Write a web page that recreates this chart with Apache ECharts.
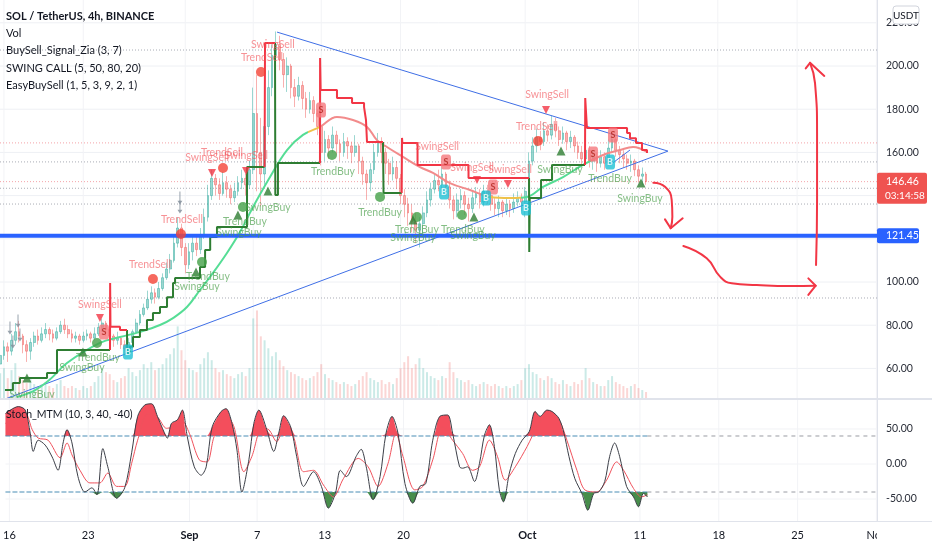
<!DOCTYPE html>
<html>
<head>
<meta charset="utf-8">
<script src="https://cdn.jsdelivr.net/npm/echarts@6.0.0/dist/echarts.min.js"></script>
<style>
html,body{margin:0;padding:0;background:#ffffff;}
#chart{width:932px;height:550px;}
</style>
</head>
<body>
<div id="chart"></div>
<script>
// ================= DATA =================
// day 0 = Aug 16 00:00; candles are 8h, first one Aug 15 16:00
const candleStartDay = -1 / 3;
const candleStepDay = 1 / 3;
const firstOpen = 62;
const closes = [
66,70,68,73,77,75,71,68,72,75,
73,76,78,76,74,77,80,78,76,74,
75,73,75,76,74,76,79,81,78,75,
73,74,71,69,72,77,81,85,88,92,
95,93,97,102,106,110,118,125,116,108,
114,118,115,121,130,140,148,145,141,146,
143,139,142,146,148,145,152,178,160,150,
172,190,205,210,203,196,200,190,186,191,
185,180,184,178,172,160,166,162,168,164,
160,165,163,160,163,156,150,146,152,160,
165,160,155,150,153,148,140,136,132,128,
124,127,132,138,143,147,145,150,144,138,
133,138,140,136,134,139,141,137,142,140,
136,134,137,133,136,134,137,139,137,142,
156,163,167,165,170,168,173,170,166,169,
165,167,163,160,157,161,156,158,155,158,
155,162,166,161,159,157,155,156,152,149,150,146.46];
const highs = [
70,73,72,76,81,82,76,73,74,77,
78,79,81,79,78,79,82,83,80,78,
77,76,77,78,77,79,81,83,82,80,
76,77,75,73,74,78,83,87,90,96,
98,97,100,104,109,113,121,130,127,118,
118,121,122,125,134,145,152,150,148,151,
149,145,146,149,152,150,156,190,196,176,
180,198,210,216,214,206,204,201,194,195,
193,188,188,186,180,174,170,168,172,170,
166,169,167,165,168,164,158,152,155,164,
169,167,162,157,158,156,150,143,139,136,
132,130,135,142,146,150,152,153,151,147,
140,141,143,142,139,142,144,143,145,145,
142,139,140,138,139,138,141,142,141,144,
160,167,171,170,174,173,177,176,172,172,
170,170,168,165,163,166,163,161,160,161,
160,166,169,167,163,161,159,159,157,154,153,151];
const lows = [
60,64,63,66,71,72,67,63,64,70,
71,72,74,73,72,73,76,76,74,72,
72,71,72,73,72,73,75,77,75,72,
70,71,69,66,66,71,76,80,84,87,
90,90,92,96,101,104,109,116,112,104,
106,110,112,113,120,128,138,140,138,140,
139,136,137,140,143,140,143,150,142,135,
145,168,186,200,198,190,188,185,181,184,
180,176,178,174,168,154,156,157,160,159,
156,158,157,155,158,150,145,138,142,150,
158,155,150,145,147,143,136,130,126,123,
118,116,121,130,135,141,142,143,140,134,
129,130,134,131,128,132,136,134,135,136,
133,131,130,130,131,130,132,135,133,130,
140,154,160,161,163,165,166,167,163,164,
161,162,160,157,153,155,153,152,151,153,
152,154,160,158,155,153,152,151,149,146,145,145];
const volumes = [
25,30,20,28,35,22,18,15,20,14,
12,14,16,12,10,14,18,12,10,12,
10,8,12,10,12,16,22,30,26,24,
18,16,20,22,30,26,22,28,34,30,
36,28,30,34,40,44,50,72,48,38,
30,28,26,34,40,46,38,30,26,28,
24,22,20,24,26,22,30,80,88,62,
58,50,42,46,38,32,28,26,24,22,
20,18,20,22,26,34,24,20,18,16,
14,16,14,12,14,18,22,26,20,18,
16,18,14,16,14,20,30,36,42,30,
34,40,30,26,22,20,18,22,20,36,
26,20,18,16,18,14,12,14,16,14,
12,14,12,10,12,10,12,14,18,30,
34,26,24,20,18,22,20,16,14,18,
14,12,16,14,18,30,20,16,14,12,
12,18,22,16,14,12,10,12,14,10,8,6];

const lastPrice = 146.46;
const countdownText = '03:14:58';
const supportLevel = 121.45;

// time axis
const timeTickDays = [0, 7, 16, 22, 28, 35, 46, 56, 63, 70, 77];
const timeTickLabels = ['16', '23', 'Sep', '7', '13', '20', 'Oct', '11', '18', '25', 'Nov'];
const boldTickLabels = ['Sep', 'Oct'];
// price axis
const priceTicks = [60, 80, 100, 160, 180, 200, 220];
const priceGridLevels = [60, 80, 100, 120, 140, 160, 180, 200, 220];
const dottedGrayLevels = [207.4, 155.6, 143.4, 136.1, 92.6];
const dottedPinkLevels = [164.4, 146.46];
// stoch axis
const stochTicks = [50, 0, -50];
const stochUpper = 40;
const stochLower = -40;

// BuySell_Signal_Zia step line segments [day, price]
const zigGreenSegments = [
  [[0.09,50],[0.79,53.2],[1.41,55.6],[3.80,57.9],[4.68,68.5],[9.36,68.5]],
  [[10.86,77.8],[10.87,67.1],[11.12,70],[11.39,74.5],[12.0,77.8],[12.62,82.4],[13.15,85.6],[13.77,88.4],[14.39,93],[14.92,99.5],[15.1,101.8],[17.3,107],[17.75,114.8],[18.2,120.8],[18.8,125.5],[21.45,153.2],[23.0,153.2]],
  [[23.92,210.6],[23.95,140.3],[24.18,155.1],[27.89,155.1]],
  [[33.45,164.8],[33.5,141.2],[35.1,141.2]],
  [[46.34,148.1],[46.36,113.9],[46.4,138.9],[47.4,147.2],[48.37,154.2],[51.28,154.2]]
];
const zigRedSegments = [
  [[9.36,68.5],[9.37,99.5],[9.40,79.3],[10.24,77.8],[10.86,77.8]],
  [[23.0,153.2],[23.04,210.6],[23.92,210.6]],
  [[27.89,155.1],[27.90,203.7],[27.95,188.9],[29.39,185.2],[30.72,182.9],[31.78,181],[31.95,175],[32.04,164.8],[33.45,164.8]],
  [[35.1,141.2],[35.13,166.7],[35.16,164.4],[36.5,154.2],[41.0,148.1],[46.34,148.1]],
  [[51.28,154.2],[51.3,185.2],[51.45,171.3],[54.99,169],[55.25,166.5],[55.78,164.4],[56.31,161.1],[56.75,159.7]]
];
// SWING CALL moving line [day, price]
const swingLine = [[1.15,46.8],[2.6,49.5],[4.0,54.6],[5.56,62.5],[8.47,71.8],[10.24,74.5],[12.0,76.9],[13.77,80.1],[14.92,83.3],[16.15,88.4],[17.3,96.3],[18.45,104.2],[19.68,113.4],[20.83,123.1],[21.98,134.7],[23.48,148.6],[24.98,161.1],[26.39,168.1],[27.89,171.8],[29.39,176.4],[30.8,175],[32.04,171.8],[32.92,165.7],[33.8,162.5],[35.22,157.9],[36.72,153.2],[37.86,150.5],[39.36,145.8],[41.13,142.6],[42.9,139.4],[44.66,138.9],[46.16,139.4],[47.57,144],[49.34,148.6],[51.1,154.2],[52.87,158.8],[54.37,161.1],[55.52,162.5],[56.75,160.2]];
const swingLineColorBreaks = [26.8, 27.9, 42.3, 45.6, 51.8]; // green | yellow | pink | yellow | green | pink

// signal markers [day, price]
const trendSellDots = [[13.15,101.4],[15.62,122.2],[19.33,152.8],[22.68,197.2],[47.13,165.3]];
const trendBuyDots = [[8.21,71.8],[17.48,109.3],[21.09,134.7],[28.95,158.8],[33.19,139.4],[36.45,130.1],[40.42,131]];
const swingBuyTriangles = [[2.03,55.6],[6.97,67.6],[16.95,104.6],[20.65,131],[23.3,142.1],[36.1,128.7],[41.48,130.1],[49.16,160.6],[56.22,145.8]];
const swingSellTriangles = [[8.47,83.3],[18.36,150.5],[21.36,151.4],[41.75,147.2],[44.48,145.4],[47.84,179.6]];
const sellBoxes = [[8.83,76.9],[27.98,179.6],[39.01,155.6],[43.16,144],[51.99,159.3],[53.75,168.1]];
const buyBoxes = [[10.94,67.6],[38.84,141.7],[42.54,138.9],[46.07,134.3],[53.49,155.6]];
const easyArrows = [[0.53,78.7],[1.24,82],[0.79,72.2],[1.41,75.5],[15.53,138.9],[15.53,134.7]];
const buyLabels = [[2.47,48.1,'SwingBuy'],[8.30,64.8,'TrendBuy'],[6.88,60.2,'SwingBuy'],[18.0,102.3,'TrendBuy'],[17.03,97.7,'SwingBuy'],[21.27,127.8,'TrendBuy'],[20.74,123.1,'SwingBuy'],[23.3,134.3,'SwingBuy'],[29.04,150.9,'TrendBuy'],[33.19,132,'TrendBuy'],[36.45,124.1,'TrendBuy'],[36.1,120.4,'SwingBuy'],[40.5,124.1,'TrendBuy'],[41.4,121.3,'SwingBuy'],[49.07,151.9,'SwingBuy'],[53.49,148.1,'TrendBuy'],[56.13,138.4,'SwingBuy']];
const sellLabels = [[8.47,89.4,'SwingSell'],[12.89,107.9,'TrendSell'],[15.71,128.7,'TrendSell'],[17.92,157.4,'SwingSell'],[19.24,159.7,'TrendSell'],[21.36,158.3,'SwingSell'],[23.74,209.7,'SwingSell'],[22.77,203.7,'TrendSell'],[38.22,162.5,'SwingSell'],[41.31,152.8,'SwingSell'],[44.66,151.9,'SwingSell'],[47.93,186.6,'SwingSell'],[47.04,171.8,'TrendSell']];

// drawings [day, price]
const triangleLower = [[0.09,45.8],[58.6,160.6]];
const triangleUpper = [[24.1,215.7],[58.6,160.6]];
const shortTrend = [[53.49,154.2],[55.25,161.1]];
const arrowDownShaft = [[57.31,146],[58.34,144.1],[58.93,138],[58.99,130.2],[58.84,124.9]];
const arrowDownHead = [[58.34,129],[58.84,124.9],[59.9,129.5]];
const arrowRightShaft = [[59.96,116.7],[62.02,111],[63.2,102.5],[64.23,99.4],[66.43,98.6],[69.37,98.1],[71.64,98.3]];
const arrowRightHead = [[70.99,101.7],[71.64,98.3],[70.99,94]];
const arrowUpShaft = [[71.67,107.9],[71.76,138],[71.76,169],[71.58,192.1],[71.14,201.5]];
const arrowUpHead = [[70.76,198.9],[71.14,201.5],[72.4,195.4]];

// Stoch_MTM [day, value]
const stochMain = [[-0.35,72],[0.79,82],[1.41,77],[1.85,44],[2.12,18],[2.56,34],[3.18,27],[3.80,10],[4.32,-9],[4.77,30],[5.12,49],[5.56,30],[6.09,-18],[6.71,-40],[7.33,-34],[7.77,-44],[8.30,22],[8.74,-4],[9.53,-49],[10.24,-34],[10.86,16],[11.39,68],[12.00,84],[12.62,86],[13.15,68],[13.59,51],[14.03,37],[14.39,58],[14.92,63],[15.36,77],[15.80,39],[16.42,-4],[17.03,-16],[17.48,-4],[18.01,53],[18.80,75],[19.24,79],[19.77,58],[20.21,20],[20.65,-40],[21.27,6],[21.71,58],[22.15,77],[22.86,49],[23.48,18],[23.92,44],[24.36,69],[24.98,53],[25.51,11],[26.13,-32],[27.01,-11],[27.71,-32],[28.33,-63],[28.95,-42],[29.39,-9],[29.92,-18],[30.80,11],[31.24,21],[31.69,-4],[32.30,-51],[32.92,-18],[33.45,44],[33.98,68],[34.51,44],[35.13,-28],[35.83,-56],[36.45,-32],[36.98,-28],[37.60,34],[38.22,68],[38.92,70],[39.36,44],[39.98,-4],[40.25,-6],[40.69,-4],[41.31,-25],[41.75,1],[42.19,41],[42.63,56],[43.07,25],[43.51,-37],[43.87,-54],[44.40,-13],[44.93,15],[45.54,34],[46.16,46],[46.69,75],[47.13,68],[47.75,77],[48.19,75],[48.81,65],[49.25,44],[49.69,11],[50.22,-21],[50.84,-42],[51.37,-66],[51.90,-42],[52.34,-40],[52.87,-25],[53.31,11],[53.75,30],[54.19,11],[54.81,-32],[55.43,-47],[55.87,-61],[56.31,-42],[56.66,-47]];
const stochSignal = [[-0.35,58],[0.53,68],[1.41,72],[2.03,49],[2.56,37],[3.44,34],[4.50,9],[5.12,30],[5.56,13],[6.27,-9],[7.15,-27],[8.03,-27],[8.74,-13],[9.53,-32],[10.24,-32],[10.86,1],[11.39,34],[12.27,72],[13.15,67],[13.95,51],[14.47,53],[15.27,63],[15.98,44],[16.86,6],[17.56,3],[18.18,39],[19.24,70],[19.95,53],[20.83,-11],[21.54,11],[22.42,51],[23.04,49],[23.74,32],[24.54,58],[25.24,39],[26.13,-11],[27.01,-9],[27.89,-30],[28.77,-47],[29.66,-21],[30.98,8],[31.86,-4],[32.74,-32],[33.63,1],[34.33,44],[34.95,11],[36.01,-37],[36.72,-32],[37.60,6],[38.48,53],[39.36,34],[40.25,15],[41.13,-9],[41.75,-4],[42.63,34],[43.34,11],[44.04,-23],[44.93,-4],[45.98,25],[46.87,53],[47.93,72],[48.81,63],[49.51,34],[50.40,-9],[51.10,-37],[52.16,-40],[53.04,-23],[53.93,3],[54.55,-9],[55.43,-35],[56.13,-47],[56.66,-44]];

const chartTitle = 'SOL / TetherUS, 4h, BINANCE';
const legendLines = ['Vol', 'BuySell_Signal_Zia (3, 7)', 'SWING CALL (5, 50, 80, 20)', 'EasyBuySell (1, 5, 3, 9, 2, 1)'];
const stochTitle = 'Stoch_MTM (10, 3, 40, -40)';
const currencyLabel = 'USDT';

// ================= LAYOUT =================
const FONT = 'Lato';
const xMin = -0.35, xMax = 77.05;
const priceMin = 46.3, priceMax = 230.56;
const stochMin = -81.4, stochMax = 91.4;
const volMax = 400;
const lastStochDay = stochMain[stochMain.length - 1][0];

const candleDays = closes.map((c, i) => candleStartDay + i * candleStepDay);
const candleData = closes.map((c, i) => [candleDays[i], i === 0 ? firstOpen : closes[i - 1], c, lows[i], highs[i]]);
const upColor = 'rgba(38,166,154,0.45)';
const downColor = 'rgba(239,83,80,0.45)';
const volumeData = volumes.map((v, i) => ({
  value: [candleDays[i], v],
  itemStyle: { color: candleData[i][2] >= candleData[i][1] ? 'rgba(38,166,154,0.24)' : 'rgba(239,83,80,0.24)' }
}));

const series = [];
function line(xi, yi, data, style, z, extra) {
  const s = Object.assign({ type: 'line', xAxisIndex: xi, yAxisIndex: yi, data: data, symbol: 'none',
    silent: true, animation: false, lineStyle: style, z: z }, extra || {});
  series.push(s);
  return series.length - 1;
}
// grid lines
priceGridLevels.forEach(p => line(0, 0, [[xMin, p], [xMax, p]], { color: '#eef0f4', width: 1 }, 1));
timeTickDays.forEach(d => line(0, 0, [[d, priceMin], [d, priceMax]], { color: '#f2f3f6', width: 1 }, 1));
timeTickDays.forEach(d => line(1, 2, [[d, stochMin], [d, stochMax]], { color: '#f2f3f6', width: 1 }, 1));
stochTicks.forEach(v => line(1, 2, [[xMin, v], [xMax, v]], { color: '#f2f3f6', width: 1 }, 1));
dottedGrayLevels.forEach(p => line(0, 0, [[xMin, p], [xMax, p]], { color: '#a9acb5', width: 1, type: [1, 2] }, 2));
dottedPinkLevels.forEach(p => line(0, 0, [[xMin, p], [xMax, p]], { color: '#f4a3a8', width: 1, type: [1, 2] }, 2));

// volume
series.push({ type: 'bar', xAxisIndex: 0, yAxisIndex: 1, data: volumeData, barWidth: 2, silent: true, animation: false, z: 2 });
// candles
series.push({ type: 'candlestick', xAxisIndex: 0, yAxisIndex: 0, data: candleData, barWidth: 2.2, silent: true, animation: false, z: 4,
  itemStyle: { color: upColor, color0: downColor, borderColor: upColor, borderColor0: downColor, borderWidth: 1 } });

// triangle drawing
line(0, 0, triangleLower, { color: '#3f6fe6', width: 1 }, 5);
line(0, 0, triangleUpper, { color: '#3f6fe6', width: 1 }, 5);
line(0, 0, shortTrend, { color: '#3f6fe6', width: 1 }, 5);
// swing call line
const swingIdx = line(0, 0, swingLine, { width: 2 }, 6, { smooth: 0.4 });
// step lines
function joinSegments(segs) {
  const out = [];
  segs.forEach((s, k) => { if (k > 0) out.push(null); s.forEach(p => out.push(p)); });
  return out;
}
line(0, 0, joinSegments(zigGreenSegments), { color: '#2e7d32', width: 2 }, 7, { step: 'end', connectNulls: false });
line(0, 0, joinSegments(zigRedSegments), { color: '#f23645', width: 2 }, 7, { step: 'end', connectNulls: false });
// support line
line(0, 0, [[xMin, supportLevel], [xMax, supportLevel]], { color: '#2962ff', width: 4 }, 8);

// markers
function scatter(data, opts) {
  series.push(Object.assign({ type: 'scatter', xAxisIndex: 0, yAxisIndex: 0, data: data, silent: true, animation: false, z: 9 }, opts));
}
scatter(trendSellDots, { symbol: 'circle', symbolSize: 10, itemStyle: { color: '#f44336' } });
scatter(trendBuyDots, { symbol: 'circle', symbolSize: 10, itemStyle: { color: '#43a047' } });
scatter(swingBuyTriangles, { symbol: 'triangle', symbolSize: [9, 9], itemStyle: { color: '#2e7d32' } });
scatter(swingSellTriangles, { symbol: 'triangle', symbolRotate: 180, symbolSize: [8, 8], itemStyle: { color: '#f23645' } });
scatter(easyArrows, { symbol: 'path://M4.4,0 H5.6 V10 H8 L5,14 L2,10 H4.4 Z', symbolSize: [5, 13], itemStyle: { color: '#7f8c99' } });
scatter(sellBoxes, { symbol: 'roundRect', symbolSize: [10, 15], itemStyle: { color: '#f5787d' },
  label: { show: true, position: 'inside', formatter: 'S', color: '#b3261e', fontSize: 9, fontWeight: 'bold', fontFamily: FONT } });
scatter(buyBoxes, { symbol: 'roundRect', symbolSize: [10, 15], itemStyle: { color: '#1fc1d4' },
  label: { show: true, position: 'inside', formatter: 'B', color: '#ffffff', fontSize: 9, fontWeight: 'bold', fontFamily: FONT } });
scatter(buyLabels, { symbol: 'circle', symbolSize: 1, itemStyle: { color: 'rgba(0,0,0,0)' }, z: 10,
  label: { show: true, position: 'inside', formatter: p => p.data[2], color: 'rgba(76,160,76,0.85)', fontSize: 10.5, fontFamily: FONT } });
scatter(sellLabels, { symbol: 'circle', symbolSize: 1, itemStyle: { color: 'rgba(0,0,0,0)' }, z: 10,
  label: { show: true, position: 'inside', formatter: p => p.data[2], color: 'rgba(242,84,90,0.8)', fontSize: 10.5, fontFamily: FONT } });

// hand-drawn arrows
const arrowStyle = { color: '#f23645', width: 2, cap: 'round', join: 'round' };
[arrowDownShaft, arrowRightShaft, arrowUpShaft].forEach(a => line(0, 0, a, arrowStyle, 11, { smooth: 0.5 }));
[arrowDownHead, arrowRightHead, arrowUpHead].forEach(a => line(0, 0, a, arrowStyle, 11));

// stoch panel
line(1, 2, stochMain.map(p => [p[0], Math.max(p[1], stochUpper)]), { width: 0 }, 3,
  { smooth: 0.35, areaStyle: { color: 'rgba(242,54,69,0.88)', origin: stochUpper, opacity: 1 } });
line(1, 2, stochMain.map(p => [p[0], Math.min(p[1], stochLower)]), { width: 0 }, 3,
  { smooth: 0.35, areaStyle: { color: 'rgba(46,125,50,0.88)', origin: stochLower, opacity: 1 } });
line(1, 2, [[xMin, stochUpper], [lastStochDay, stochUpper]], { color: '#4a8db5', width: 1.2, type: [5, 2] }, 4);
line(1, 2, [[xMin, stochLower], [lastStochDay, stochLower]], { color: '#4a8db5', width: 1.2, type: [5, 2] }, 4);
line(1, 2, [[lastStochDay, stochUpper], [xMax, stochUpper]], { color: '#9a9ca3', width: 1, type: [4, 4] }, 4);
line(1, 2, [[lastStochDay, stochLower], [xMax, stochLower]], { color: '#9a9ca3', width: 1, type: [4, 4] }, 4);
line(1, 2, stochSignal, { color: '#f0525c', width: 1 }, 5, { smooth: 0.3 });
line(1, 2, stochMain, { color: '#3c3f48', width: 1 }, 6, { smooth: 0.3 });

const b = swingLineColorBreaks;
const option = {
  animation: false,
  backgroundColor: '#ffffff',
  textStyle: { fontFamily: FONT },
  grid: [
    { left: 0, top: 0, width: 877, height: 398 },
    { left: 0, top: 400, width: 877, height: 121 }
  ],
  xAxis: [
    { type: 'value', gridIndex: 0, min: xMin, max: xMax, axisLine: { show: false }, axisTick: { show: false },
      axisLabel: { show: false }, splitLine: { show: false } },
    { type: 'value', gridIndex: 1, min: xMin, max: xMax, axisLine: { show: false }, axisTick: { show: false },
      splitLine: { show: false },
      axisLabel: { show: true, customValues: timeTickDays, margin: 9, fontSize: 11, color: '#131722', fontFamily: FONT,
        hideOverlap: false,
        formatter: v => { const t = timeTickLabels[timeTickDays.indexOf(v)]; return boldTickLabels.indexOf(t) >= 0 ? '{b|' + t + '}' : t; },
        rich: { b: { fontWeight: 'bold', fontSize: 11, color: '#131722', fontFamily: FONT } } } }
  ],
  yAxis: [
    { type: 'value', gridIndex: 0, position: 'right', min: priceMin, max: priceMax, axisLine: { show: false },
      axisTick: { show: false }, splitLine: { show: false },
      axisLabel: { customValues: priceTicks, margin: 9, fontSize: 10.5, color: '#2a2e39', fontFamily: FONT, formatter: v => v.toFixed(2) } },
    { type: 'value', gridIndex: 0, min: 0, max: volMax, show: false },
    { type: 'value', gridIndex: 1, position: 'right', min: stochMin, max: stochMax, axisLine: { show: false },
      axisTick: { show: false }, splitLine: { show: false },
      axisLabel: { customValues: stochTicks, margin: 9, fontSize: 10.5, color: '#2a2e39', fontFamily: FONT, formatter: v => v.toFixed(2) } }
  ],
  visualMap: [{
    show: false, type: 'piecewise', seriesIndex: swingIdx, dimension: 0,
    pieces: [
      { lt: b[0], color: '#55dd95' },
      { gte: b[0], lt: b[1], color: '#efc24a' },
      { gte: b[1], lt: b[2], color: '#f28b8b' },
      { gte: b[2], lt: b[3], color: '#efc24a' },
      { gte: b[3], lt: b[4], color: '#55dd95' },
      { gte: b[4], color: '#f28b8b' }
    ]
  }],
  series: series
};

const chart = echarts.init(document.getElementById('chart'), null, { renderer: 'canvas' });
chart.setOption(option);

const yLast = chart.convertToPixel({ yAxisIndex: 0 }, lastPrice);
const ySup = chart.convertToPixel({ yAxisIndex: 0 }, supportLevel);
const graphics = [];
function txt(text, x, y, size, weight, color, align) {
  graphics.push({ type: 'text', z: 100, silent: true, style: { text: text, x: x, y: y, fill: color, fontSize: size,
    fontWeight: weight || 'normal', fontFamily: FONT, verticalAlign: 'middle', align: align || 'left' } });
}
// frame
graphics.push({ type: 'rect', z: 90, silent: true, shape: { x: 877, y: 521, width: 55, height: 29 }, style: { fill: '#ffffff' } });
graphics.push({ type: 'line', z: 91, silent: true, shape: { x1: 877.5, y1: 0, x2: 877.5, y2: 522 }, style: { stroke: '#e0e3eb', lineWidth: 1 } });
graphics.push({ type: 'line', z: 91, silent: true, shape: { x1: 0, y1: 399, x2: 932, y2: 399 }, style: { stroke: '#e0e3eb', lineWidth: 2 } });
graphics.push({ type: 'line', z: 91, silent: true, shape: { x1: 0, y1: 521.5, x2: 932, y2: 521.5 }, style: { stroke: '#e0e3eb', lineWidth: 1 } });
// legend
txt(chartTitle, 6, 16.5, 11, 'bold', '#131722');
legendLines.forEach((t, k) => txt(t, 6, 33.8 + k * 17.1, 11, 'normal', '#131722'));
txt(stochTitle, 6, 415, 10.5, 'normal', '#131722');
// currency box
graphics.push({ type: 'rect', z: 95, silent: true, shape: { x: 893, y: 6, width: 26, height: 18, r: 3 }, style: { fill: '#ffffff', stroke: '#d1d4dc', lineWidth: 1 } });
txt(currencyLabel, 906, 15.5, 10, 'normal', '#131722', 'center');
// last price box
graphics.push({ type: 'rect', z: 95, silent: true, shape: { x: 877, y: yLast - 9, width: 50, height: 31, r: 2 }, style: { fill: '#ef5350' } });
txt(lastPrice.toFixed(2), 886, yLast, 10.5, 'normal', '#ffffff');
txt(countdownText, 885, yLast + 14, 10, 'normal', '#ffffff');
// support level box
graphics.push({ type: 'rect', z: 95, silent: true, shape: { x: 877, y: ySup - 7.5, width: 42, height: 15, r: 2 }, style: { fill: '#2962ff' } });
txt(supportLevel.toFixed(2), 886, ySup, 10.5, 'normal', '#ffffff');

chart.setOption({ graphic: graphics });
</script>
</body>
</html>
